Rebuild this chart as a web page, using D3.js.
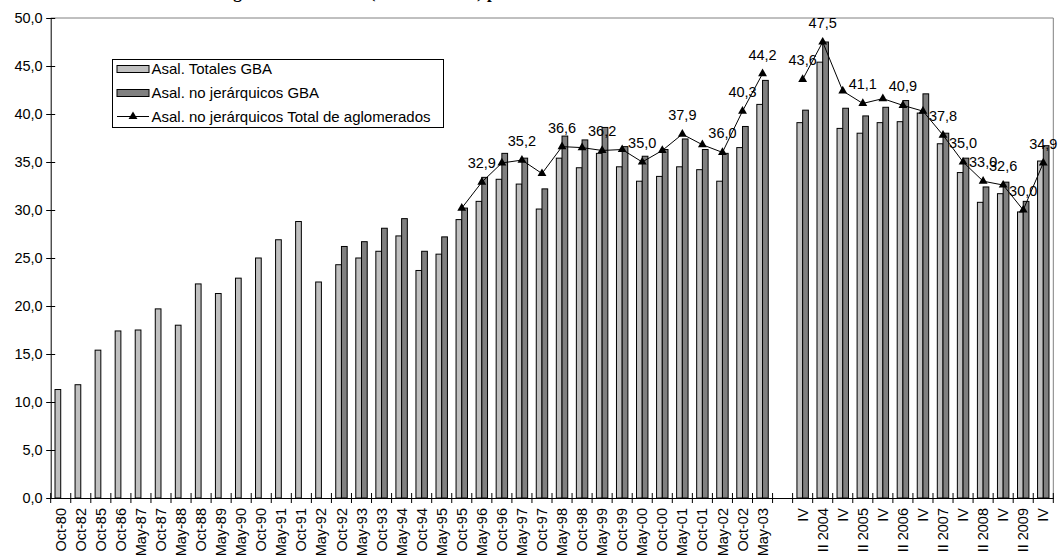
<!DOCTYPE html>
<html>
<head>
<meta charset="utf-8">
<script src="https://cdn.jsdelivr.net/npm/d3@7"></script>
<style>
  html, body { margin: 0; padding: 0; background: #fff; }
  svg { display: block; font-family: "Liberation Sans", Arial, sans-serif; }
</style>
</head>
<body>
<svg id="chart" width="1058" height="558"></svg>
<script>
// Survey waves (May/Oct) up to 2003, then semesters (II / IV) from 2003 on
const categories = [
  "Oct-80","Oct-82","Oct-85","Oct-86","May-87","Oct-87","May-88","Oct-88","May-89","May-90",
  "Oct-90","May-91","Oct-91","May-92","Oct-92","May-93","Oct-93","May-94","Oct-94","May-95",
  "Oct-95","May-96","Oct-96","May-97","Oct-97","May-98","Oct-98","May-99","Oct-99","May-00",
  "Oct-00","May-01","Oct-01","May-02","Oct-02","May-03","",
  "IV","II 2004","IV","II 2005","IV","II 2006","IV","II 2007","IV","II 2008","IV","II 2009","IV"
];

const totalesGBA = [
  11.3, 11.8, 15.4, 17.4, 17.5, 19.7, 18.0, 22.3, 21.3, 22.9,
  25.0, 26.9, 28.8, 22.5, 24.3, 25.0, 25.7, 27.3, 23.7, 25.4,
  29.0, 30.9, 33.2, 32.7, 30.1, 35.4, 34.4, 35.9, 34.5, 33.0,
  33.5, 34.5, 34.2, 33.0, 36.5, 41.0, null,
  39.1, 45.4, 38.5, 38.0, 39.1, 39.2, 40.1, 36.9, 33.9, 30.8, 31.7, 29.8, 35.1
];

const noJerarquicosGBA = [
  null, null, null, null, null, null, null, null, null, null,
  null, null, null, null, 26.2, 26.7, 28.1, 29.1, 25.7, 27.2,
  30.2, 33.4, 35.9, 35.4, 32.2, 37.7, 37.3, 38.6, 36.6, 35.6,
  36.3, 37.4, 36.3, 35.9, 38.7, 43.5, null,
  40.4, 47.5, 40.6, 39.8, 40.7, 41.4, 42.1, 38.0, 35.4, 32.4, 32.9, 30.9, 36.7
];

const noJerarquicosTotal = [
  null, null, null, null, null, null, null, null, null, null,
  null, null, null, null, null, null, null, null, null, null,
  30.2, 32.9, 34.9, 35.2, 33.8, 36.6, 36.5, 36.2, 36.3, 35.0,
  36.2, 37.9, 36.8, 36.0, 40.3, 44.2, null,
  43.6, 47.5, 42.4, 41.1, 41.6, 40.9, 40.3, 37.8, 35.0, 33.0, 32.6, 30.0, 34.9
];

// Points of the line that carry a value label
const labeledPoints = [21, 23, 25, 27, 29, 31, 33, 34, 35, 37, 38, 40, 42, 44, 45, 46, 47, 48, 49];

const yTicks = [0, 5, 10, 15, 20, 25, 30, 35, 40, 45, 50];

const seriesNames = [
  "Asal. Totales GBA",
  "Asal. no jerárquicos GBA",
  "Asal. no jerárquicos Total de aglomerados"
];

const title = "Tasa de asalariados no registrados del GBA (en % del total) por onda";

const fmt = v => d3.format(".1f")(v).replace(".", ",");

const svg = d3.select("#chart");
const plotL = 50.7, plotR = 1053.3, plotT = 18, plotB = 498;

const x = d3.scaleBand().domain(d3.range(categories.length)).range([plotL, plotR]).padding(0);
const y = d3.scaleLinear().domain([0, 50]).range([plotB, plotT]);
const bw = x.bandwidth();
const barW = bw * 0.285;
const cx = i => x(i) + bw / 2;

// Title (runs off the top edge; only its lowest strokes show)
svg.append("text")
  .attr("x", 51).attr("y", -2)
  .attr("font-family", "'Liberation Serif', 'Times New Roman', serif")
  .attr("font-weight", "bold").attr("font-size", 17)
  .text(title);

// Plot frame (top and right)
svg.append("path")
  .attr("d", `M${plotL},${plotT}H${plotR}V${plotB}`)
  .attr("fill", "none").attr("stroke", "#808080").attr("stroke-width", 1);

// Bars
const bars = svg.append("g");
bars.selectAll("rect.tot")
  .data(totalesGBA.map((v, i) => ({ v, i })).filter(d => d.v != null))
  .join("rect").attr("class", "tot")
  .attr("x", d => cx(d.i) - barW).attr("width", barW)
  .attr("y", d => y(d.v)).attr("height", d => y(0) - y(d.v))
  .attr("fill", "#c0c0c0").attr("stroke", "#000").attr("stroke-width", 1);
bars.selectAll("rect.nj")
  .data(noJerarquicosGBA.map((v, i) => ({ v, i })).filter(d => d.v != null))
  .join("rect").attr("class", "nj")
  .attr("x", d => cx(d.i)).attr("width", barW)
  .attr("y", d => y(d.v)).attr("height", d => y(0) - y(d.v))
  .attr("fill", "#808080").attr("stroke", "#000").attr("stroke-width", 1);

// Y axis
const yAxis = svg.append("g").attr("transform", `translate(${plotL},0)`)
  .call(d3.axisLeft(y).tickValues(yTicks).tickFormat(fmt).tickSize(0).tickPadding(8));
yAxis.select(".domain").attr("stroke", "#000");
yAxis.selectAll(".tick line").attr("x1", -4.5).attr("x2", 4.5).attr("stroke", "#000");
yAxis.selectAll(".tick text").attr("font-size", 14.5).attr("font-family", "'Liberation Sans', Arial, sans-serif").attr("fill", "#000");

// X axis: ticks on category boundaries, rotated labels
const xAxis = svg.append("g").attr("transform", `translate(0,${plotB})`)
  .call(d3.axisBottom(x).tickFormat(i => categories[i]).tickSize(0));
xAxis.select(".domain").attr("stroke", "#000");
xAxis.selectAll(".tick line").remove();
xAxis.selectAll(".tick text")
  .attr("font-size", 14.5).attr("font-family", "'Liberation Sans', Arial, sans-serif").attr("fill", "#000")
  .attr("transform", "rotate(-90)")
  .attr("text-anchor", "end").attr("dy", "0.35em").attr("x", -10).attr("y", 0);
xAxis.selectAll("line.sep")
  .data(d3.range(categories.length + 1))
  .join("line").attr("class", "sep")
  .attr("x1", i => plotL + i * bw).attr("x2", i => plotL + i * bw)
  .attr("y1", -5).attr("y2", 5).attr("stroke", "#000");

// Line series
const line = d3.line().defined(d => d.v != null).x(d => cx(d.i)).y(d => y(d.v));
const pts = noJerarquicosTotal.map((v, i) => ({ v, i }));
svg.append("path").datum(pts)
  .attr("d", line).attr("fill", "none").attr("stroke", "#000").attr("stroke-width", 1);
const tri = d3.symbol().type(d3.symbolTriangle).size(34);
svg.append("g").selectAll("path")
  .data(pts.filter(d => d.v != null))
  .join("path").attr("d", tri)
  .attr("transform", d => `translate(${cx(d.i)},${y(d.v)})`)
  .attr("fill", "#000");

// Value labels
svg.append("g").selectAll("text")
  .data(pts.filter(d => labeledPoints.includes(d.i)))
  .join("text")
  .attr("x", d => cx(d.i)).attr("y", d => y(d.v) - 14)
  .attr("text-anchor", "middle").attr("font-size", 14.5).attr("fill", "#000")
  .text(d => fmt(d.v));

// Legend
const lg = svg.append("g");
lg.append("rect").attr("x", 112.5).attr("y", 59.5).attr("width", 331).attr("height", 68)
  .attr("fill", "#fff").attr("stroke", "#000");
const rowY = [69, 93, 116.5];
lg.append("rect").attr("x", 117).attr("y", rowY[0] - 3.5).attr("width", 32).attr("height", 7)
  .attr("fill", "#c0c0c0").attr("stroke", "#000");
lg.append("rect").attr("x", 117).attr("y", rowY[1] - 3.5).attr("width", 32).attr("height", 7)
  .attr("fill", "#808080").attr("stroke", "#000");
lg.append("line").attr("x1", 117).attr("x2", 149).attr("y1", rowY[2]).attr("y2", rowY[2]).attr("stroke", "#000");
lg.append("path").attr("d", tri).attr("transform", `translate(133,${rowY[2]})`).attr("fill", "#000");
lg.selectAll("text.lbl").data(seriesNames).join("text").attr("class", "lbl")
  .attr("x", 151.5).attr("y", (d, i) => rowY[i]).attr("dy", "0.35em")
  .attr("font-size", 15).attr("fill", "#000").text(d => d);
</script>
</body>
</html>
